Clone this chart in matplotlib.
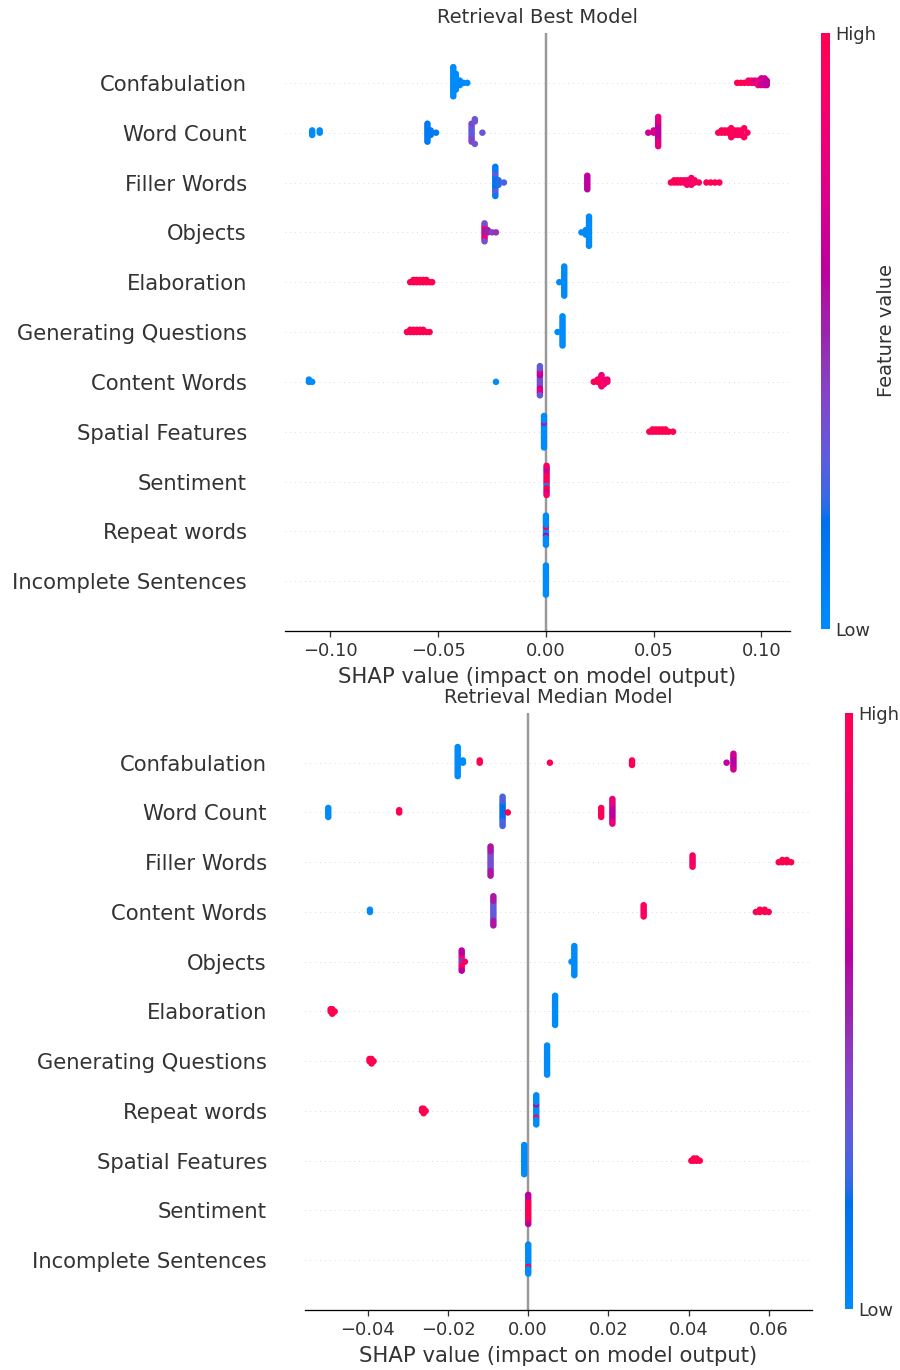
import numpy as np
import matplotlib
matplotlib.use("Agg")
import matplotlib.pyplot as plt
from matplotlib import cm
from matplotlib.colors import LinearSegmentedColormap

# each tuple is (shap value, number of samples, normalised feature value)
BEST_FEATURES = ["Confabulation", "Word Count", "Filler Words", "Objects", "Elaboration",
                 "Generating Questions", "Content Words", "Spatial Features", "Sentiment",
                 "Repeat words", "Incomplete Sentences"]

best_confabulation = [(-0.0430, 14, 0.0), (-0.0418, 8, 0.0), (-0.0400, 3, 0.02), (-0.0382, 1, 0.0),
                      (-0.0365, 1, 0.0), (0.0888, 1, 0.97), (0.0905, 1, 1.0), (0.0922, 1, 0.95),
                      (0.0940, 2, 0.95), (0.0955, 2, 0.88), (0.0970, 2, 0.72), (0.0985, 3, 0.9),
                      (0.1000, 4, 0.65), (0.1015, 4, 0.68), (0.1025, 3, 0.62)]
best_word_count = [(-0.1085, 3, 0.0), (-0.1050, 2, 0.0), (-0.0550, 9, 0.12), (-0.0535, 3, 0.12),
                   (-0.0510, 1, 0.12), (-0.0345, 6, 0.30), (-0.0345, 3, 0.40), (-0.0330, 3, 0.32),
                   (-0.0295, 1, 0.33), (0.0475, 1, 0.70), (0.0500, 2, 0.72), (0.0521, 8, 0.62),
                   (0.0521, 6, 0.78), (0.0800, 1, 0.97), (0.0815, 2, 1.0), (0.0830, 2, 0.95),
                   (0.0845, 2, 1.0), (0.0860, 3, 0.95), (0.0875, 3, 0.97), (0.0890, 3, 0.9),
                   (0.0905, 3, 0.95), (0.0920, 2, 0.95), (0.0935, 1, 0.92)]
best_filler_words = [(-0.0235, 7, 0.15), (-0.0235, 4, 0.30), (-0.0235, 3, 0.10), (-0.0220, 3, 0.2),
                     (-0.0195, 1, 0.25), (0.0192, 7, 0.62), (0.0580, 1, 0.97), (0.0595, 2, 0.95),
                     (0.0610, 2, 1.0), (0.0625, 2, 0.95), (0.0640, 2, 0.95), (0.0655, 3, 0.9),
                     (0.0675, 4, 0.88), (0.0690, 2, 0.95), (0.0710, 1, 0.95), (0.0745, 1, 0.95),
                     (0.0765, 1, 0.97), (0.0785, 1, 1.0), (0.0805, 1, 0.95)]
best_objects = [(-0.0285, 4, 0.55), (-0.0285, 3, 0.85), (-0.0285, 2, 0.35), (-0.0270, 2, 0.5),
                (-0.0250, 1, 0.4), (-0.0232, 1, 0.45), (0.0165, 1, 0.0), (0.0185, 3, 0.0),
                (0.0200, 14, 0.0)]
best_elaboration = [(-0.0630, 1, 1.0), (-0.0615, 2, 1.0), (-0.0600, 2, 1.0), (-0.0585, 2, 1.0),
                    (-0.0570, 2, 1.0), (-0.0555, 2, 1.0), (-0.0540, 1, 1.0), (-0.0528, 1, 1.0),
                    (0.0062, 1, 0.0), (0.0085, 14, 0.0)]
best_generating_questions = [(-0.0645, 1, 1.0), (-0.0630, 2, 1.0), (-0.0615, 2, 1.0), (-0.0600, 2, 1.0),
                             (-0.0585, 2, 1.0), (-0.0570, 2, 1.0), (-0.0555, 1, 1.0), (-0.0540, 1, 1.0),
                             (0.0054, 1, 0.0), (0.0077, 14, 0.0)]
best_content_words = [(-0.1100, 2, 0.0), (-0.1085, 1, 0.0), (-0.0232, 1, 0.0), (-0.0028, 5, 0.35),
                      (-0.0028, 3, 0.6), (-0.0028, 3, 0.75), (-0.0028, 3, 0.3), (0.0222, 1, 0.95),
                      (0.0240, 2, 1.0), (0.0255, 4, 0.95), (0.0258, 2, 0.8), (0.0270, 3, 0.92),
                      (0.0285, 2, 0.85)]
best_spatial_features = [(-0.0009, 7, 0.0), (-0.0009, 1, 0.55), (-0.0009, 7, 0.0), (0.0480, 1, 1.0),
                         (0.0495, 2, 1.0), (0.0510, 2, 1.0), (0.0525, 2, 1.0), (0.0540, 2, 1.0),
                         (0.0555, 2, 1.0), (0.0570, 1, 1.0), (0.0590, 1, 1.0)]
best_sentiment = [(0.0003, 4, 0.95), (0.0003, 1, 0.0), (0.0003, 4, 1.0), (0.0003, 3, 0.65),
                  (0.0003, 2, 0.9)]
best_repeat_words = [(0.0, 3, 0.0), (0.0, 1, 1.0), (0.0, 1, 0.6), (0.0, 9, 0.0)]
best_incomplete_sentences = [(0.0, 14, 0.0)]

MEDIAN_FEATURES = ["Confabulation", "Word Count", "Filler Words", "Content Words", "Objects",
                   "Elaboration", "Generating Questions", "Repeat words", "Spatial Features",
                   "Sentiment", "Incomplete Sentences"]

median_confabulation = [(-0.0176, 14, 0.0), (-0.0163, 2, 0.0), (-0.0121, 2, 1.0), (0.0054, 1, 1.0),
                        (0.0259, 3, 0.97), (0.0495, 1, 0.62), (0.0512, 6, 0.6), (0.0512, 2, 0.7)]
median_word_count = [(-0.0499, 5, 0.0), (-0.0322, 2, 1.0), (-0.0064, 8, 0.18), (-0.0064, 6, 0.25),
                     (-0.0051, 1, 1.0), (0.0182, 5, 0.97), (0.0210, 7, 0.62), (0.0210, 5, 0.8)]
median_filler_words = [(-0.0094, 8, 0.35), (-0.0094, 6, 0.55), (0.0410, 3, 0.85), (0.0410, 3, 0.95),
                       (0.0625, 1, 1.0), (0.0634, 2, 1.0), (0.0645, 2, 1.0), (0.0656, 1, 1.0)]
median_content_words = [(-0.0395, 2, 0.0), (-0.0087, 8, 0.3), (-0.0087, 6, 0.55), (0.0288, 3, 0.85),
                        (0.0288, 3, 0.95), (0.0568, 1, 1.0), (0.0578, 2, 1.0), (0.0590, 2, 1.0),
                        (0.0600, 1, 1.0)]
median_objects = [(-0.0166, 4, 0.45), (-0.0166, 3, 0.95), (-0.0166, 3, 0.6), (-0.0158, 1, 0.9),
                  (0.0108, 1, 0.0), (0.0115, 14, 0.0)]
median_elaboration = [(-0.0493, 2, 1.0), (-0.0489, 3, 1.0), (-0.0483, 1, 1.0), (0.0067, 14, 0.0)]
median_generating_questions = [(-0.0396, 2, 1.0), (-0.0391, 3, 1.0), (-0.0386, 1, 1.0), (0.0047, 14, 0.0)]
median_repeat_words = [(-0.0265, 2, 1.0), (-0.0261, 3, 1.0), (-0.0256, 1, 1.0), (0.0020, 5, 0.0),
                       (0.0020, 1, 0.6), (0.0020, 1, 0.9), (0.0020, 7, 0.0)]
median_spatial_features = [(-0.0010, 14, 0.0), (0.0407, 1, 1.0), (0.0413, 2, 1.0), (0.0420, 2, 1.0),
                           (0.0428, 1, 1.0)]
median_sentiment = [(0.0, 8, 1.0), (0.0, 3, 0.95), (0.0, 3, 0.62)]
median_incomplete_sentences = [(0.0, 6, 0.0), (0.0, 1, 1.0), (0.0, 7, 0.0)]

best_rows = [best_confabulation, best_word_count, best_filler_words, best_objects, best_elaboration,
             best_generating_questions, best_content_words, best_spatial_features, best_sentiment,
             best_repeat_words, best_incomplete_sentences]
median_rows = [median_confabulation, median_word_count, median_filler_words, median_content_words,
               median_objects, median_elaboration, median_generating_questions, median_repeat_words,
               median_spatial_features, median_sentiment, median_incomplete_sentences]


def lch_to_rgb(l, c, h):
    a, b = c * np.cos(h), c * np.sin(h)
    fy = (l + 16) / 116
    fx, fz = fy + a / 500, fy - b / 200

    def finv(t):
        return t ** 3 if t > 6 / 29 else 3 * (6 / 29) ** 2 * (t - 4 / 29)

    x, y, z = 0.95047 * finv(fx), finv(fy), 1.08883 * finv(fz)
    lin = np.array([3.2406 * x - 1.5372 * y - 0.4986 * z,
                    -0.9689 * x + 1.8758 * y + 0.0415 * z,
                    0.0557 * x - 0.2040 * y + 1.0570 * z])
    lin = np.clip(lin, 0, 1)
    rgb = np.where(lin > 0.0031308, 1.055 * lin ** (1 / 2.4) - 0.055, 12.92 * lin)
    return np.clip(rgb, 0, 1)


def red_blue_cmap():
    n = 100
    ls = np.concatenate([np.linspace(54, 40, n // 2), np.linspace(40, 54, n // 2)])
    cs = np.linspace(70, 90, n)
    hs = np.linspace(4.6588, 0.35470565 + 2 * np.pi, n)
    return LinearSegmentedColormap.from_list("red_blue", [lch_to_rgb(l, c, h) for l, c, h in zip(ls, cs, hs)])


def swarm_offsets(xs, row_height=0.4, nbins=100):
    # stack points that fall into the same bin, alternating above and below the row
    quant = np.round(nbins * (xs - xs.min()) / (xs.max() - xs.min() + 1e-8))
    ys = np.zeros(len(xs))
    layer, last = 0, None
    for i in np.argsort(quant, kind="stable"):
        if quant[i] != last:
            layer = 0
        ys[i] = np.ceil(layer / 2) * ((layer % 2) * 2 - 1)
        layer += 1
        last = quant[i]
    return ys * 0.9 * (row_height / np.max(ys + 1))


cmap = red_blue_cmap()
axis_color = "#333333"


def summary_panel(ax, cax, title, features, rows, xlim, bar_label=True):
    n = len(features)
    for i, row in enumerate(rows):
        pos = n - 1 - i
        counts = [p[1] for p in row]
        xs = np.repeat([p[0] for p in row], counts)
        vals = np.repeat([p[2] for p in row], counts)
        ax.axhline(pos, color="#cccccc", lw=0.5, dashes=(1, 5), zorder=-1)
        ax.scatter(xs, pos + swarm_offsets(xs), c=vals, cmap=cmap, vmin=0, vmax=1,
                   s=16, linewidth=0, alpha=1, zorder=3)
    ax.axvline(0, color="#999999", zorder=-1)

    ax.xaxis.set_ticks_position("bottom")
    ax.yaxis.set_ticks_position("none")
    for side in ["right", "top", "left"]:
        ax.spines[side].set_visible(False)
    ax.tick_params(color=axis_color, labelcolor=axis_color)
    ax.set_yticks(range(n))
    ax.set_yticklabels(features[::-1], fontsize=13)
    ax.tick_params("y", length=20, width=0.5, which="major")
    ax.tick_params("x", labelsize=11)
    ax.set_ylim(-1, n)
    ax.set_xlim(*xlim)
    ax.set_xlabel("SHAP value (impact on model output)", fontsize=13, color=axis_color)
    ax.set_title(title, fontsize=12, color=axis_color)

    m = cm.ScalarMappable(cmap=cmap)
    m.set_array([0, 1])
    cb = plt.colorbar(m, cax=cax, ticks=[0, 1])
    cb.set_ticklabels(["Low", "High"])
    if bar_label:
        cb.set_label("Feature value", size=12, labelpad=0, color=axis_color)
    cb.ax.tick_params(labelsize=11, length=0, labelcolor=axis_color)
    cb.outline.set_visible(False)


dpi = 117
fig = plt.figure(figsize=(900 / dpi, 1370 / dpi), dpi=dpi)

ax_top = fig.add_axes([0.3167, 0.5394, 0.5611, 0.4365])
cax_top = fig.add_axes([0.9122, 0.5409, 0.0100, 0.4350])
summary_panel(ax_top, cax_top, "Retrieval Best Model", BEST_FEATURES, best_rows, (-0.1211, 0.1133))

ax_bot = fig.add_axes([0.3389, 0.0438, 0.5633, 0.4358])
cax_bot = fig.add_axes([0.9389, 0.0445, 0.0089, 0.4350])
summary_panel(ax_bot, cax_bot, "Retrieval Median Model", MEDIAN_FEATURES, median_rows, (-0.0557, 0.0708),
              bar_label=False)

fig.savefig("out.png", dpi=dpi, facecolor="white")
